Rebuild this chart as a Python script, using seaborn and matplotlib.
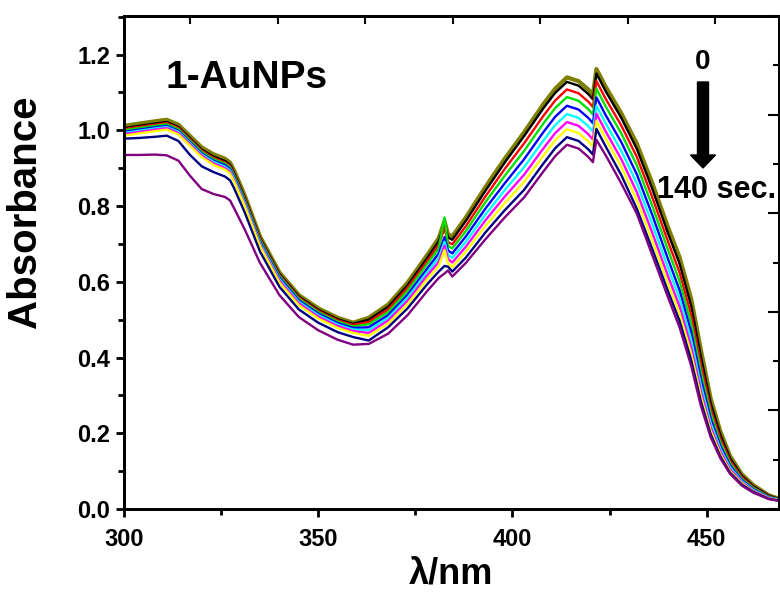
import matplotlib
matplotlib.use("Agg")
import matplotlib.pyplot as plt
import numpy as np
import pandas as pd
import seaborn as sns
from matplotlib.patches import FancyArrow
from matplotlib.ticker import MultipleLocator, NullFormatter, FormatStrFormatter

sns.set_theme(style="ticks")
plt.rcParams["font.family"] = ["Liberation Sans", "DejaVu Sans"]
plt.rcParams["font.weight"] = "bold"
for key in ("text.color", "axes.labelcolor", "xtick.color", "ytick.color", "axes.edgecolor"):
    plt.rcParams[key] = "black"

# UV-vis spectra of 1-AuNPs recorded over time
wavelength = [300, 304, 308, 311, 314, 317, 320, 323, 326, 327.3, 328.3, 331, 335, 340, 345,
              350, 355, 359, 363, 368, 373, 378, 381, 382.5, 383.4, 384.5, 388, 393, 398, 403,
              408, 411, 414, 417, 419.5, 420.7, 421.6, 424, 428, 432, 436, 440, 443, 446,
              448.5, 451, 453.5, 456, 459, 462, 466, 469]

abs_0 = [1.012, 1.018, 1.024, 1.028, 1.015, 0.985, 0.955, 0.937, 0.925, 0.915, 0.895, 0.830, 0.720, 0.625, 0.565,
         0.530, 0.505, 0.492, 0.505, 0.540, 0.598, 0.670, 0.715, 0.760, 0.725, 0.720, 0.770, 0.850, 0.925, 0.995,
         1.070, 1.110, 1.140, 1.130, 1.108, 1.094, 1.162, 1.115, 1.045, 0.965, 0.860, 0.745, 0.665, 0.555,
         0.420, 0.292, 0.205, 0.140, 0.092, 0.063, 0.036, 0.026]
abs_1 = [1.006, 1.012, 1.018, 1.022, 1.009, 0.979, 0.949, 0.931, 0.919, 0.909, 0.889, 0.825, 0.716, 0.621, 0.561,
         0.526, 0.501, 0.489, 0.500, 0.534, 0.591, 0.662, 0.707, 0.752, 0.717, 0.711, 0.761, 0.840, 0.915, 0.985,
         1.059, 1.099, 1.128, 1.118, 1.096, 1.082, 1.150, 1.103, 1.033, 0.951, 0.845, 0.729, 0.648, 0.536,
         0.402, 0.280, 0.196, 0.134, 0.088, 0.060, 0.035, 0.025]
abs_2 = [1.003, 1.009, 1.015, 1.019, 1.006, 0.976, 0.946, 0.927, 0.915, 0.905, 0.885, 0.821, 0.713, 0.618, 0.558,
         0.523, 0.498, 0.486, 0.494, 0.527, 0.584, 0.654, 0.697, 0.742, 0.705, 0.699, 0.747, 0.825, 0.898, 0.966,
         1.039, 1.079, 1.108, 1.098, 1.076, 1.062, 1.130, 1.083, 1.013, 0.930, 0.823, 0.707, 0.625, 0.512,
         0.381, 0.265, 0.185, 0.127, 0.084, 0.057, 0.033, 0.024]
abs_3 = [1.000, 1.006, 1.012, 1.016, 1.003, 0.973, 0.943, 0.924, 0.912, 0.902, 0.882, 0.818, 0.710, 0.615, 0.555,
         0.520, 0.495, 0.482, 0.488, 0.520, 0.576, 0.646, 0.688, 0.770, 0.695, 0.688, 0.734, 0.810, 0.880, 0.946,
         1.019, 1.059, 1.088, 1.078, 1.056, 1.042, 1.110, 1.063, 0.992, 0.908, 0.800, 0.685, 0.602, 0.490,
         0.362, 0.252, 0.176, 0.121, 0.080, 0.055, 0.032, 0.024]
abs_4 = [0.996, 1.002, 1.008, 1.012, 0.999, 0.969, 0.939, 0.920, 0.908, 0.898, 0.878, 0.814, 0.706, 0.611, 0.551,
         0.516, 0.491, 0.478, 0.480, 0.512, 0.566, 0.634, 0.675, 0.718, 0.683, 0.675, 0.720, 0.793, 0.860, 0.924,
         0.996, 1.036, 1.065, 1.055, 1.033, 1.019, 1.087, 1.040, 0.969, 0.884, 0.776, 0.661, 0.578, 0.467,
         0.343, 0.239, 0.167, 0.115, 0.077, 0.052, 0.031, 0.023]
abs_5 = [0.993, 0.999, 1.005, 1.009, 0.996, 0.966, 0.936, 0.917, 0.904, 0.894, 0.874, 0.810, 0.702, 0.607, 0.547,
         0.512, 0.487, 0.474, 0.472, 0.505, 0.558, 0.625, 0.663, 0.706, 0.671, 0.663, 0.706, 0.777, 0.842, 0.903,
         0.974, 1.014, 1.043, 1.033, 1.011, 0.997, 1.065, 1.018, 0.946, 0.860, 0.752, 0.638, 0.556, 0.446,
         0.326, 0.227, 0.159, 0.110, 0.074, 0.050, 0.030, 0.023]
abs_6 = [0.990, 0.996, 1.002, 1.006, 0.993, 0.963, 0.933, 0.913, 0.900, 0.890, 0.870, 0.806, 0.698, 0.603, 0.543,
         0.508, 0.483, 0.470, 0.465, 0.498, 0.550, 0.616, 0.652, 0.695, 0.660, 0.651, 0.693, 0.762, 0.825, 0.883,
         0.953, 0.993, 1.022, 1.012, 0.990, 0.976, 1.044, 0.997, 0.924, 0.837, 0.729, 0.616, 0.535, 0.427,
         0.311, 0.216, 0.152, 0.105, 0.071, 0.048, 0.029, 0.022]
abs_7 = [0.986, 0.992, 0.998, 1.002, 0.989, 0.959, 0.929, 0.909, 0.896, 0.886, 0.866, 0.802, 0.694, 0.598, 0.538,
         0.503, 0.478, 0.465, 0.457, 0.490, 0.541, 0.606, 0.641, 0.684, 0.649, 0.639, 0.680, 0.747, 0.808, 0.864,
         0.934, 0.974, 1.003, 0.993, 0.971, 0.957, 1.025, 0.978, 0.904, 0.816, 0.708, 0.596, 0.516, 0.410,
         0.297, 0.207, 0.145, 0.100, 0.068, 0.046, 0.028, 0.022]
abs_8 = [0.978, 0.980, 0.983, 0.986, 0.972, 0.935, 0.905, 0.890, 0.878, 0.868, 0.848, 0.785, 0.680, 0.587, 0.527,
         0.492, 0.467, 0.454, 0.445, 0.480, 0.530, 0.593, 0.627, 0.642, 0.640, 0.627, 0.664, 0.730, 0.789, 0.843,
         0.913, 0.953, 0.982, 0.972, 0.950, 0.936, 1.004, 0.957, 0.882, 0.793, 0.686, 0.576, 0.497, 0.393,
         0.284, 0.198, 0.139, 0.096, 0.065, 0.045, 0.027, 0.021]
abs_9 = [0.935, 0.935, 0.936, 0.934, 0.920, 0.880, 0.845, 0.832, 0.824, 0.815, 0.795, 0.740, 0.650, 0.565, 0.507,
         0.472, 0.447, 0.434, 0.436, 0.463, 0.512, 0.575, 0.610, 0.622, 0.630, 0.614, 0.650, 0.712, 0.770, 0.823,
         0.892, 0.932, 0.962, 0.952, 0.930, 0.916, 0.975, 0.934, 0.860, 0.780, 0.670, 0.560, 0.480, 0.378,
         0.272, 0.190, 0.134, 0.093, 0.062, 0.043, 0.026, 0.021]

times = [0, 15, 30, 45, 60, 80, 95, 110, 125, 140]
spectra = [abs_0, abs_1, abs_2, abs_3, abs_4, abs_5, abs_6, abs_7, abs_8, abs_9]
colors = ["#808000", "#000000", "#FF0000", "#00E000", "#0000FF",
          "#00FFFF", "#FF00FF", "#FFFF00", "#000080", "#800080"]

df = pd.concat(
    [pd.DataFrame({"wavelength": wavelength, "absorbance": s, "time": t})
     for t, s in zip(times, spectra)],
    ignore_index=True,
)

W, H = 780, 601
fig = plt.figure(figsize=(W / 100, H / 100), dpi=100)
x0, x1, y_top, y_bot = 124, 779, 16, 509
ax = fig.add_axes([x0 / W, 1 - y_bot / H, (x1 - x0) / W, (y_bot - y_top) / H])


def axfrac(px, py):
    """Pixel position in the figure -> axes fraction."""
    return (px - x0) / (x1 - x0), (y_bot - py) / (y_bot - y_top)


sns.lineplot(data=df, x="wavelength", y="absorbance", hue="time", palette=colors,
             linewidth=1.7, legend=False, sort=False, estimator=None, ax=ax)
ax.lines[0].set_linewidth(3.0)

ax.set_xlim(300, 468.6)
ax.set_ylim(0, 1.302)
ax.xaxis.set_major_locator(MultipleLocator(50))
ax.xaxis.set_minor_locator(MultipleLocator(25))
ax.yaxis.set_major_locator(MultipleLocator(0.2))
ax.yaxis.set_minor_locator(MultipleLocator(0.1))
ax.yaxis.set_major_formatter(FormatStrFormatter("%.1f"))
ax.tick_params(which="major", direction="out", length=6, width=2, labelsize=17, colors="black")
ax.tick_params(which="minor", direction="out", length=4, width=2, colors="black")
ax.tick_params(axis="x", pad=8)
ax.tick_params(axis="y", pad=4)
for sp in ax.spines.values():
    sp.set_linewidth(2)
    sp.set_color("black")

ax.set_xlabel("λ/nm", fontsize=26, fontweight="bold", color="black", labelpad=4)
ax.set_ylabel("Absorbance", fontsize=29, fontweight="bold", color="black")
ax.yaxis.set_label_coords(*axfrac(44, 212))

# secondary frame ticks (right and top)
axr = ax.twinx()
axr.set_ylim(0, 10)
axr.yaxis.set_major_locator(MultipleLocator(2))
axr.yaxis.set_minor_locator(MultipleLocator(1))
axr.yaxis.set_major_formatter(NullFormatter())
axr.tick_params(which="major", direction="in", length=8, width=1.5, colors="black")
axr.tick_params(which="minor", direction="in", length=4, width=1.5, colors="black")
axt = ax.twiny()
axt.set_xlim(0, 655 / 87.5)
axt.xaxis.set_major_formatter(NullFormatter())
axt.set_xticks([(190 - 124) / 87.5 + k for k in range(7)])
axt.tick_params(which="major", direction="in", length=6, width=1.5, colors="black")
for a in (axr, axt):
    for sp in a.spines.values():
        sp.set_linewidth(2)
        sp.set_color("black")

ax.text(*axfrac(165, 78), "1-AuNPs", fontsize=28, fontweight="bold", va="center", ha="left",
        transform=ax.transAxes)
ax.text(*axfrac(703, 62), "0", fontsize=20, fontweight="bold", ha="center", va="center",
        transform=ax.transAxes)
ax.text(*axfrac(717, 190), "140 sec.", fontsize=22, fontweight="bold", ha="center",
        va="center", transform=ax.transAxes)
ax_start = axfrac(703, 82)
ax_end = axfrac(703, 168)
arrow = FancyArrow(ax_start[0], ax_start[1], 0, ax_end[1] - ax_start[1],
                   width=11 / (x1 - x0), head_width=25 / (x1 - x0),
                   head_length=13 / (y_bot - y_top), length_includes_head=True,
                   color="black", transform=ax.transAxes)
ax.add_patch(arrow)

fig.savefig("out.png", dpi=100)
